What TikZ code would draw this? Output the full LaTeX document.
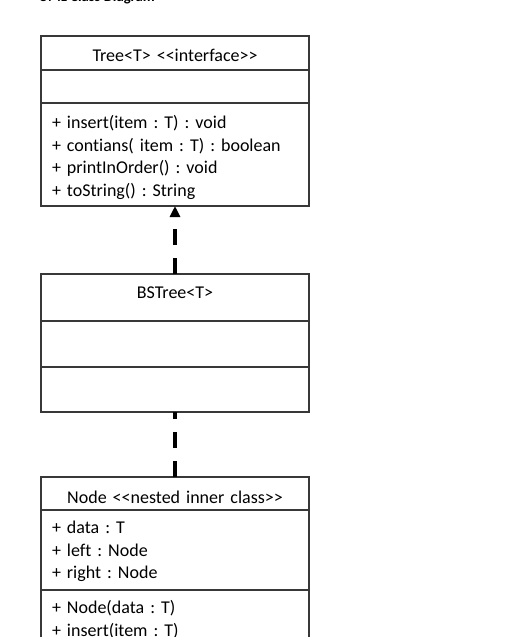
\documentclass[tikz,border=0pt]{standalone}
\usepackage{fontspec}
\setmainfont{Carlito}[Ligatures=NoCommon]
\usetikzlibrary{positioning, arrows.meta}
\newcommand{\stlt}{<\kern0pt<}
\newcommand{\stgt}{>\kern0pt>}
\frenchspacing

\begin{document}
\begin{tikzpicture}[x=1pt, y=-1pt,
  part/.style={draw=black!78, line width=1.6pt, rectangle, outer sep=0pt, inner sep=0pt, minimum width=268pt},
  txt/.style={inner sep=0pt, text width=246pt, font=\fontsize{18}{22.5}\selectfont\frenchspacing, execute at begin node=\strut},
  heading/.style={txt, align=center},
  members/.style={txt, align=left},
  realize/.style={line width=3.5pt, dash pattern=on 16pt off 13pt}]
\useasboundingbox (0,0) rectangle (504,637);
\node (title)[anchor=base west, font=\fontsize{14.6}{17}\selectfont\bfseries] at (35,1.5) {UML Class Diagram};
% interface
\node (treeHead)[part, minimum height=34pt] at (175,53) {};
\node (treeAttr)[part, minimum height=33pt, below=0pt of treeHead] {};
\node (treeOps)[part, minimum height=103pt, below=0pt of treeAttr] {};
\node (treeName)[heading, below=9.25pt of treeHead.north] {Tree<T> \stlt interface\stgt};
\node (treeMethods)[members, below=9.75pt of treeOps.north] {+ insert(item : T) : void\\+ contians( item : T) : boolean\\+ printInOrder() : void\\+ toString() : String};
% implementing class
\node (bsHead)[part, minimum height=47pt] at (175,297.5) {};
\node (bsAttr)[part, minimum height=46pt, below=0pt of bsHead] {};
\node (bsOps)[part, minimum height=45pt, below=0pt of bsAttr] {};
\node (bsName)[heading, below=9pt of bsHead.north] {BSTree<T>};
% nested class
\node (nodeHead)[part, minimum height=33pt] at (175,493.5) {};
\node (nodeAttr)[part, minimum height=80pt, below=0pt of nodeHead] {};
\node (nodeOps)[part, minimum height=60pt, below=0pt of nodeAttr] {};
\node (nodeName)[heading, below=10.25pt of nodeHead.north] {Node \stlt nested inner class\stgt};
\node (nodeFields)[members, below=7.75pt of nodeAttr.north] {+ data : T\\+ left : Node\\+ right : Node};
\node (nodeMethods)[members, below=8pt of nodeOps.north] {+ Node(data : T)\\+ insert(item : T)};
\draw[realize, -{Triangle[length=11pt, width=10pt]}] (bsHead.north) -- (treeOps.south);
\draw[realize] (nodeHead.north) -- (bsOps.south);
\end{tikzpicture}
\end{document}
